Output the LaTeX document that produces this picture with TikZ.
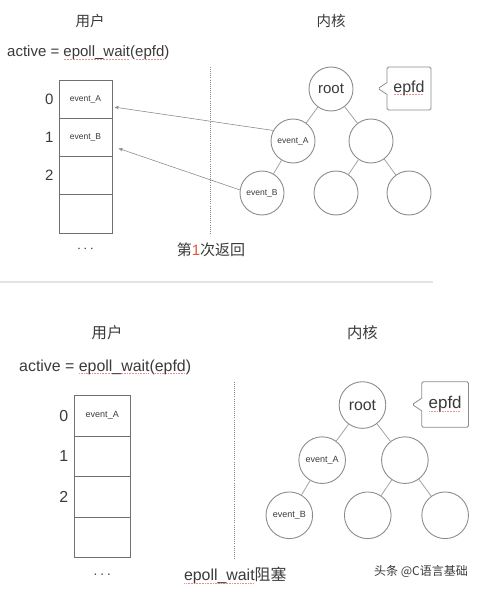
\documentclass[tikz,border=0pt]{standalone}
\usepackage{fontspec}
\setmainfont{Liberation Sans}
\newfontfamily\cjk{Noto Sans CJK SC}
\usetikzlibrary{arrows.meta,positioning,shapes.callouts}
\definecolor{inkgray}{HTML}{3A3A3A}
\definecolor{edgegray}{HTML}{8C8C8C}
\definecolor{boxgray}{HTML}{707070}
\definecolor{rulegray}{HTML}{E4E4E4}
\definecolor{squigred}{HTML}{E89090}
\definecolor{countred}{HTML}{E0553A}

% red spell-check dots under a word
\newcommand{\spellmark}[1]{\setbox0=\hbox{#1}\rlap{\raisebox{-2.4pt}{\textcolor{squigred}{\hbox to \wd0{\leaders\hbox to 1.5pt{\hss\rule{0.8pt}{0.6pt}\hss}\hfill}}}}\box0}

\begin{document}
\begin{tikzpicture}[x=1pt, y=-1pt,
    bigtext/.style={text=inkgray, inner sep=0pt, font=\fontsize{15}{18}\selectfont},
    cjktitle/.style={text=inkgray, inner sep=0pt, font=\cjk\fontsize{14.5}{17}\selectfont},
    smalltext/.style={text=inkgray, inner sep=0pt, font=\fontsize{8.5}{10}\selectfont},
    cellbox/.style={draw=boxgray, line width=0.8pt, minimum width=53pt, minimum height=38.25pt, inner sep=0pt},
    treenode/.style={circle, draw=edgegray, line width=0.9pt, minimum size=44pt, inner sep=0pt, text=inkgray},
    treeedge/.style={draw=edgegray!80, line width=0.8pt},
    calloutbox/.style={rectangle callout, draw=edgegray, line width=0.8pt, rounded corners=1.5pt,
      minimum width=44pt, minimum height=43pt, inner sep=0pt, text=inkgray,
      callout relative pointer={(-9pt,0pt)}, callout pointer width=12pt,
      font=\fontsize{16}{19}\selectfont},
    divider/.style={draw=edgegray, line width=1pt, dash pattern=on 0.8pt off 1.3pt},
    fetch/.style={draw=edgegray, line width=0.6pt, -{Stealth[length=4.5pt,width=3.5pt]}}]
  \useasboundingbox (0,0) rectangle (479,591);

  % \epollpanel{prefix}{transform}{cell 1 text}{caption}
  % One panel: user array on the left, kernel tree on the right.
  \newcommand{\epollpanel}[4]{%
    \begin{scope}[#2, transform shape]
      \node[cjktitle] (#1user) at (90,21) {用户};
      \node[cjktitle] (#1kernel) at (331,21) {内核};
      \node[bigtext, anchor=base west] (#1call) at (7,57)
        {active = \spellmark{epoll\_wait}(\spellmark{epfd})};
      \foreach \i in {0,...,3} {
        \pgfmathsetmacro{\celly}{99.125+\i*38.25}
        \node[cellbox] (#1cell\i) at (85.5,\celly) {};
      }
      \foreach \i in {0,1,2}
        \node[bigtext, left=5pt of #1cell\i] (#1idx\i) {\i};
      \node[smalltext] (#1lab0) at (#1cell0) {event\_A};
      \node[smalltext] (#1lab1) at (#1cell1) {#3};
      \node[text=inkgray, font=\fontsize{14}{16}\selectfont] (#1more) at (85.5,249) {$\cdots$};
      \coordinate (#1divtop) at (210,67);
      \coordinate (#1divbot) at (210,235);
      \draw[divider] (#1divtop) -- (#1divbot);
      \node[treenode, font=\fontsize{15}{18}\selectfont] (#1root) at (331,89) {root};
      \node[treenode, font=\fontsize{8.5}{10}\selectfont] (#1evA) at (293,141) {event\_A};
      \node[treenode] (#1right) at (371,141) {};
      \node[treenode, font=\fontsize{8.5}{10}\selectfont] (#1evB) at (262,193) {event\_B};
      \node[treenode] (#1midleaf) at (336,193) {};
      \node[treenode] (#1rightleaf) at (409,193) {};
      \draw[treeedge] (#1root) -- (#1evA);
      \draw[treeedge] (#1root) -- (#1right);
      \draw[treeedge] (#1evA) -- (#1evB);
      \draw[treeedge] (#1right) -- (#1midleaf);
      \draw[treeedge] (#1right) -- (#1rightleaf);
      \node[calloutbox] (#1epfd) at (409,88.5) {\spellmark{epfd}};
      \node[bigtext] (#1caption) at (211,250) {#4};
    \end{scope}
  }

  \epollpanel{top}{shift={(0,0)}}{event\_B}{{\cjk 第}\textcolor{countred}{1}{\cjk 次返回}}

  % ---------- events copied back to the user array ----------
  \draw[fetch] (topevA.152) -- ([xshift=2pt,yshift=-8pt]topcell0.east);
  \draw[fetch] (topevB.172) -- ([xshift=6pt,yshift=-11pt]topcell1.east);

  % ---------- separator between the two snapshots ----------
  \coordinate (sepleft) at (0,282);
  \coordinate (sepright) at (433,282);
  \draw[rulegray, line width=2pt] (sepleft) -- (sepright);

  \epollpanel{bot}{shift={(11.6,310.7)}, scale=1.06}{}{\spellmark{epoll\_wait}{\cjk 阻塞}}

  \node[text=inkgray, font=\cjk\fontsize{12}{14}\selectfont] (mark) at (421,571) {头条 @C语言基础};
\end{tikzpicture}
\end{document}
